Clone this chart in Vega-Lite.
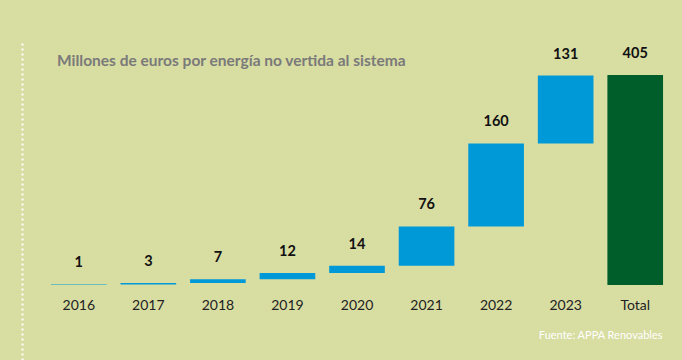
{
  "$schema": "https://vega.github.io/schema/vega-lite/v6.json",
  "autosize": {"type": "none"},
  "width": 626,
  "height": 320,
  "padding": {"left": 44, "top": 40, "right": 12, "bottom": 0},
  "background": "#d8dda2",
  "config": {"view": {"stroke": null}, "font": "Lato"},
  "title": {
    "text": "Millones de euros por energía no vertida al sistema",
    "anchor": "start",
    "frame": "group",
    "offset": -29,
    "dx": 13,
    "fontSize": 15.5,
    "fontWeight": "bold",
    "color": "#7a7a7a",
    "font": "Lato"
  },
  "data": {
    "values": [
      {"label": "2016", "value": 1, "start": 0, "end": 1, "kind": "Año"},
      {"label": "2017", "value": 3, "start": 1, "end": 4, "kind": "Año"},
      {"label": "2018", "value": 7, "start": 4, "end": 11, "kind": "Año"},
      {"label": "2019", "value": 12, "start": 11, "end": 23, "kind": "Año"},
      {"label": "2020", "value": 14, "start": 23, "end": 37, "kind": "Año"},
      {"label": "2021", "value": 76, "start": 37, "end": 113, "kind": "Año"},
      {"label": "2022", "value": 160, "start": 113, "end": 273, "kind": "Año"},
      {"label": "2023", "value": 131, "start": 273, "end": 404, "kind": "Año"},
      {"label": "Total", "value": 405, "start": 0, "end": 405, "kind": "Total"}
    ]
  },
  "encoding": {
    "x": {
      "field": "label",
      "type": "nominal",
      "sort": null,
      "scale": {"paddingInner": 0.2, "paddingOuter": 0.1},
      "axis": {
        "title": "Fuente: APPA Renovables",
        "offset": -75,
        "domain": false,
        "ticks": false,
        "grid": false,
        "labelAngle": 0,
        "labelFont": "Lato",
        "labelFontSize": 14,
        "labelColor": "#222222",
        "labelPadding": 13,
        "titleX": 618,
        "titleAlign": "right",
        "titleFont": "Lato",
        "titleColor": "#ffffff",
        "titleFontSize": 11,
        "titleFontWeight": "normal",
        "titlePadding": 17
      }
    }
  },
  "layer": [
    {
      "mark": {"type": "bar"},
      "encoding": {
        "y": {
          "field": "start",
          "type": "quantitative",
          "scale": {"domain": [-144.6, 472.5], "nice": false, "zero": false},
          "axis": {
            "title": null,
            "domain": true,
            "domainColor": "#ffffff",
            "domainDash": [2, 3],
            "domainWidth": 2,
            "offset": 22,
            "ticks": false,
            "labels": false,
            "grid": false
          }
        },
        "y2": {"field": "end"},
        "color": {
          "field": "kind",
          "type": "nominal",
          "scale": {"domain": ["Año", "Total"], "range": ["#0099d8", "#005e2b"]},
          "legend": null
        }
      }
    },
    {
      "mark": {"type": "text", "baseline": "bottom", "dy": -14, "fontSize": 14.5, "fontWeight": "bold", "color": "#111111", "font": "Lato"},
      "encoding": {
        "y": {"field": "end", "type": "quantitative"},
        "text": {"field": "value", "type": "quantitative"}
      }
    }
  ]
}
